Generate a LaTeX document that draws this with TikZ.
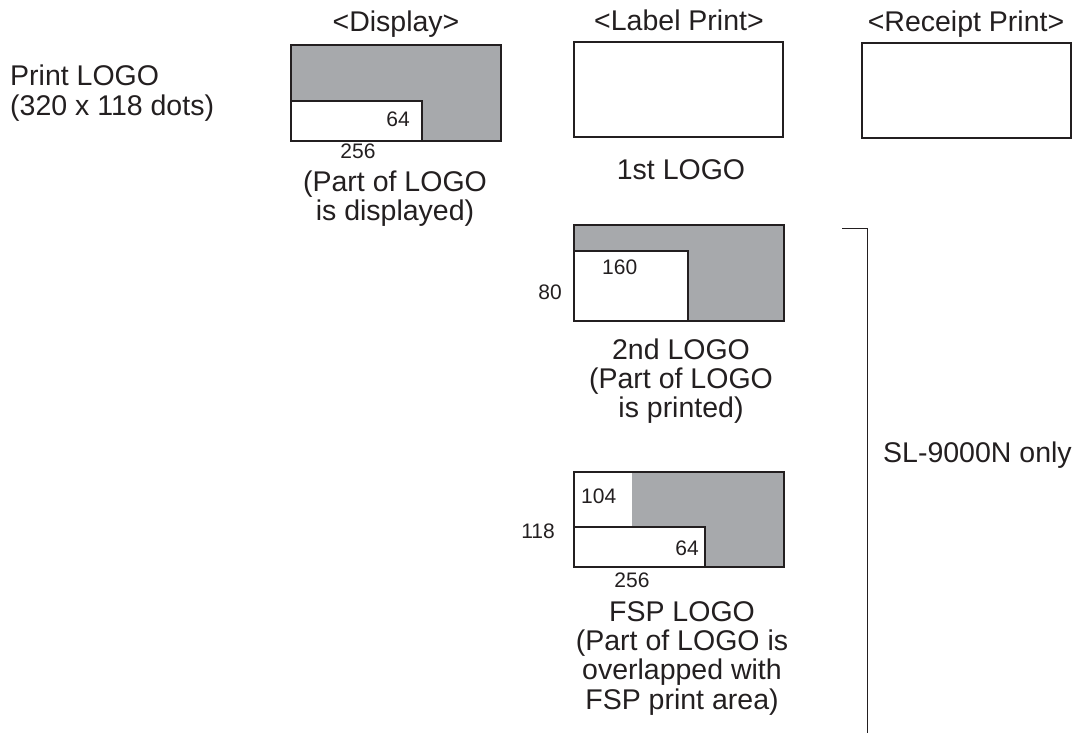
\documentclass[tikz,border=0pt]{standalone}
\usepackage{fontspec}
\setmainfont{Liberation Sans}
\definecolor{logogray}{RGB}{167,169,172}
\definecolor{ink}{RGB}{35,31,32}
\begin{document}
\begin{tikzpicture}[x=1pt,y=-1pt,
  big/.style={font=\fontsize{28.5}{29}\selectfont, text=ink, inner sep=0pt, anchor=base},
  small/.style={font=\fontsize{21}{24}\selectfont, text=ink, inner sep=0pt, anchor=base},
  frame/.style={draw=ink, line width=2pt},
  grayarea/.style={fill=logogray},
  whitearea/.style={fill=white},
  bracket/.style={draw=ink, line width=1pt}]
\useasboundingbox (0,0) rectangle (1079,733);

% headers
\node[big] (hdisp) at (396,32) {<Display>};
\node[big] (hlabel) at (679,31) {<Label Print>};
\node[big] (hrec) at (966,32) {<Receipt Print>};

% left caption
\node[big, anchor=base west] (plogo) at (10,86) {\begin{tabular}[t]{@{}l@{}}Print LOGO\\(320 x 118 dots)\end{tabular}};

% display box
\path[grayarea] (291,45) rectangle (501,141.5);
\path[whitearea] (291,101) rectangle (422,141.5);
\draw[frame] (291,101) rectangle (422,141.5);
\draw[frame] (291,45) rectangle (501,141.5);
\node[small, anchor=base east] (d64) at (410,126.5) {64};
\node[small] (d256) at (358,159) {256};
\node[big] (dcap) at (395,191) {\begin{tabular}[t]{@{}c@{}}(Part of LOGO\\is displayed)\end{tabular}};

% label print box
\draw[frame] (574,42) rectangle (783,137);
\node[big] (first) at (681,179) {1st LOGO};

% receipt print box
\draw[frame] (862,43) rectangle (1071,138);

% 2nd logo
\path[grayarea] (574,225) rectangle (784,321);
\path[whitearea] (574,251) rectangle (688,321);
\draw[frame] (574,251) rectangle (688,321);
\draw[frame] (574,225) rectangle (784,321);
\node[small, anchor=base west] (s160) at (602,274) {160};
\node[small] (s80) at (550,299) {80};
\node[big] (second) at (681,359) {\begin{tabular}[t]{@{}c@{}}2nd LOGO\\(Part of LOGO\\is printed)\end{tabular}};

% FSP logo
\path[grayarea] (574,472) rectangle (784,567);
\path[whitearea] (574,472) rectangle (632,567);
\path[whitearea] (574,527) rectangle (705,567);
\draw[frame] (574,527) rectangle (705,567);
\draw[frame] (574,472) rectangle (784,567);
\node[small, anchor=base west] (f104) at (581,503) {104};
\node[small, anchor=base east] (f64) at (699,555) {64};
\node[small] (f118) at (538,538) {118};
\node[small] (f256) at (632,587) {256};
\node[big] (fsp) at (682,621) {\begin{tabular}[t]{@{}c@{}}FSP LOGO\\(Part of LOGO is\\overlapped with\\FSP print area)\end{tabular}};

% bracket
\coordinate (btl) at (842,228);
\coordinate (btr) at (867,228);
\coordinate (bbot) at (867,733);
\draw[bracket] (btl) -- (btr) -- (bbot);
\node[big, anchor=base west] (only) at (883,462) {SL-9000N only};
\end{tikzpicture}
\end{document}
